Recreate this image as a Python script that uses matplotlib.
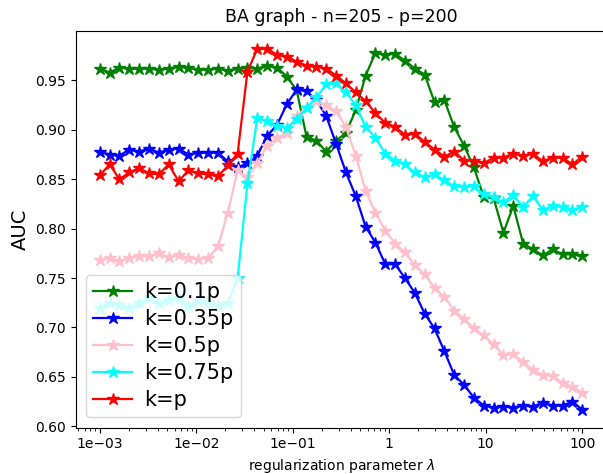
import matplotlib
matplotlib.use("Agg")
import matplotlib.pyplot as plt
import numpy as np
from matplotlib.ticker import FixedLocator, FixedFormatter

# grid of regularization values (50 points, log-spaced)
lambdas = np.logspace(-3, 2, 50)

auc_01 = [0.962, 0.958, 0.963, 0.962, 0.962, 0.962, 0.961, 0.962, 0.964, 0.963,
          0.961, 0.961, 0.962, 0.960, 0.962, 0.963, 0.962, 0.965, 0.963, 0.954,
          0.940, 0.893, 0.889, 0.878, 0.889, 0.897, 0.920, 0.955, 0.978, 0.976,
          0.977, 0.970, 0.962, 0.956, 0.928, 0.930, 0.903, 0.884, 0.862, 0.832,
          0.831, 0.796, 0.823, 0.785, 0.779, 0.773, 0.779, 0.774, 0.774, 0.772]
auc_035 = [0.878, 0.875, 0.874, 0.880, 0.878, 0.881, 0.877, 0.880, 0.881, 0.875,
           0.877, 0.877, 0.877, 0.868, 0.862, 0.866, 0.874, 0.894, 0.905, 0.926,
           0.941, 0.939, 0.930, 0.914, 0.886, 0.857, 0.833, 0.802, 0.786, 0.764,
           0.764, 0.750, 0.735, 0.714, 0.699, 0.676, 0.652, 0.642, 0.629, 0.621,
           0.619, 0.620, 0.619, 0.621, 0.620, 0.624, 0.621, 0.621, 0.625, 0.617]
auc_05 = [0.768, 0.770, 0.767, 0.770, 0.772, 0.772, 0.775, 0.771, 0.773, 0.770,
          0.769, 0.770, 0.782, 0.816, 0.859, 0.852, 0.866, 0.884, 0.892, 0.897,
          0.914, 0.923, 0.929, 0.925, 0.919, 0.903, 0.874, 0.838, 0.816, 0.798,
          0.785, 0.776, 0.763, 0.754, 0.740, 0.731, 0.717, 0.709, 0.699, 0.692,
          0.683, 0.672, 0.673, 0.665, 0.657, 0.652, 0.651, 0.644, 0.640, 0.634]
auc_075 = [0.720, 0.725, 0.723, 0.720, 0.725, 0.730, 0.725, 0.728, 0.730, 0.722,
           0.727, 0.725, 0.723, 0.725, 0.750, 0.846, 0.912, 0.909, 0.904, 0.902,
           0.911, 0.922, 0.933, 0.946, 0.947, 0.938, 0.925, 0.903, 0.892, 0.876,
           0.869, 0.865, 0.857, 0.852, 0.855, 0.849, 0.843, 0.842, 0.843, 0.835,
           0.832, 0.827, 0.834, 0.822, 0.833, 0.819, 0.823, 0.822, 0.819, 0.822]
auc_1 = [0.854, 0.865, 0.850, 0.857, 0.861, 0.856, 0.855, 0.865, 0.848, 0.859,
         0.856, 0.855, 0.853, 0.864, 0.876, 0.959, 0.982, 0.982, 0.976, 0.974,
         0.969, 0.965, 0.964, 0.962, 0.955, 0.947, 0.938, 0.929, 0.917, 0.907,
         0.903, 0.895, 0.896, 0.888, 0.880, 0.873, 0.878, 0.869, 0.869, 0.866,
         0.872, 0.872, 0.876, 0.874, 0.876, 0.868, 0.872, 0.872, 0.865, 0.873]

labels = ["k=0.1p", "k=0.35p", "k=0.5p", "k=0.75p", "k=p"]
colors = ["green", "blue", "pink", "cyan", "red"]
xtick_vals = [1e-3, 1e-2, 1e-1, 1, 10, 100]
xtick_text = ["1e\u221203", "1e\u221202", "1e\u221201", "1", "10", "100"]

fig = plt.figure(figsize=(6.03, 4.74), dpi=100)
ax = fig.add_axes([0.1255, 0.098, 0.880, 0.837])

for y, lab, c in zip([auc_01, auc_035, auc_05, auc_075, auc_1], labels, colors):
    ax.plot(lambdas, y, marker="*", color=c, label=lab, lw=1.6, ms=9)

ax.set_xscale("log")
ax.xaxis.set_major_locator(FixedLocator(xtick_vals))
ax.xaxis.set_major_formatter(FixedFormatter(xtick_text))
ax.set_yticks([0.60, 0.65, 0.70, 0.75, 0.80, 0.85, 0.90, 0.95])
ax.set_yticklabels(["0.60", "0.65", "0.70", "0.75", "0.80", "0.85", "0.90", "0.95"])
ax.tick_params(labelsize=10)

ax.set_title("BA graph - n=205 - p=200", fontsize=12.5)
ax.set_ylabel("AUC", fontsize=14)
ax.set_xlabel(r"regularization parameter $\lambda$", fontsize=10)
ax.legend(loc="lower left", fontsize=15, handlelength=1.85, labelspacing=0.33,
          borderpad=0.35, handletextpad=0.6)

fig.savefig("out.png", dpi=100)
